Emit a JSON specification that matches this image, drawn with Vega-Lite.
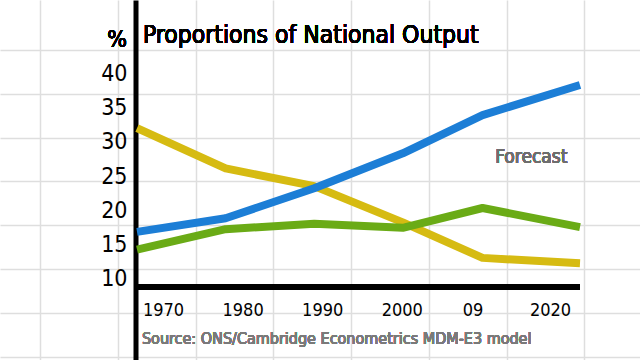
{
  "$schema": "https://vega.github.io/schema/vega-lite/v6.json",
  "width": 640,
  "height": 360,
  "autosize": {"type": "none"},
  "padding": 0,
  "background": "white",
  "config": {"view": {"stroke": null}},
  "data": {"values": [
    {"year": 1970, "series": "yellow", "value": 31.8},
    {"year": 1980, "series": "yellow", "value": 25.9},
    {"year": 1990, "series": "yellow", "value": 23.3},
    {"year": 2000, "series": "yellow", "value": 18.0},
    {"year": 2009, "series": "yellow", "value": 12.8},
    {"year": 2020, "series": "yellow", "value": 12.0},
    {"year": 1970, "series": "green", "value": 14.0},
    {"year": 1980, "series": "green", "value": 17.0},
    {"year": 1990, "series": "green", "value": 17.8},
    {"year": 2000, "series": "green", "value": 17.2},
    {"year": 2009, "series": "green", "value": 20.1},
    {"year": 2020, "series": "green", "value": 17.3},
    {"year": 1970, "series": "blue", "value": 16.6},
    {"year": 1980, "series": "blue", "value": 18.6},
    {"year": 1990, "series": "blue", "value": 23.0},
    {"year": 2000, "series": "blue", "value": 28.1},
    {"year": 2009, "series": "blue", "value": 33.7},
    {"year": 2020, "series": "blue", "value": 38.1}
  ]},
  "resolve": {"axis": {"x": "independent", "y": "independent"}},
  "layer": [
    {
      "mark": {"type": "rule", "color": "black", "strokeWidth": 5, "strokeCap": "butt"},
      "encoding": {
        "x": {"datum": 1969.77, "type": "quantitative",
          "scale": {"domain": [1954.537, 2026.772], "nice": false, "zero": false},
          "axis": {"orient": "top", "grid": true, "gridColor": "#dedede", "gridWidth": 1.5,
            "values": [1959.05, 1967.85, 1976.66, 1985.35, 1994.15, 2002.96, 2011.76, 2020.45],
            "labels": false, "ticks": false, "domain": false, "title": null}},
        "x2": {"datum": 2020.0},
        "y": {"datum": 8.54, "type": "quantitative",
          "scale": {"domain": [-2.146, 50.54], "nice": false, "zero": false},
          "axis": {"orient": "right", "grid": true, "gridColor": "#dedede", "gridWidth": 1.5,
            "values": [43.22, 36.81, 30.4, 24.0, 17.58, 11.17, 4.76, -1.65],
            "labels": false, "ticks": false, "domain": false, "title": null}}
      }
    },
    {
      "mark": {"type": "line", "strokeWidth": 8, "strokeJoin": "round", "strokeCap": "butt"},
      "encoding": {
        "x": {"field": "year", "type": "quantitative",
          "scale": {"domain": [1954.537, 2026.772], "nice": false, "zero": false},
          "axis": {"orient": "bottom", "offset": -73, "grid": false, "domain": false, "ticks": false, "tickSize": 0,
            "values": [1970, 1980, 1990, 2000, 2009, 2020], "format": "d",
            "labelExpr": "datum.value == 2009 ? '09' : datum.label",
            "labelFont": "DejaVu Sans Condensed", "labelFontSize": 18, "labelColor": "black",
            "labelBaseline": "alphabetic", "labelPadding": 28,
            "labelFlush": false, "labelOverlap": false, "labelBound": false,
            "labelOffset": {"condition": [
              {"test": "datum.value == 1970", "value": 26},
              {"test": "datum.value == 1980", "value": 17},
              {"test": "datum.value == 1990", "value": 8},
              {"test": "datum.value == 2009", "value": -10},
              {"test": "datum.value == 2020", "value": -30}
            ], "value": -1},
            "title": null}},
        "y": {"field": "value", "type": "quantitative",
          "scale": {"domain": [-2.146, 50.54], "nice": false, "zero": false},
          "axis": {"orient": "left", "offset": -135.5, "grid": false, "domain": true, "domainColor": "black", "domainWidth": 5,
            "ticks": false, "tickSize": 0, "values": [10, 15, 20, 25, 30, 35, 40],
            "labelFont": "DejaVu Sans Condensed", "labelFontSize": 23, "labelColor": "black",
            "labelBaseline": "alphabetic", "labelOffset": 8.5, "labelPadding": 8.5, "labelAlign": "right",
            "labelFlush": false, "labelOverlap": false, "labelBound": false, "title": null}},
        "color": {"field": "series", "type": "nominal",
          "scale": {"domain": ["yellow", "green", "blue"], "range": ["#d6bb12", "#6aab16", "#1c7ed6"]},
          "legend": null}
      }
    },
    {
      "mark": {"type": "text", "align": "left", "baseline": "alphabetic", "font": "DejaVu Sans Condensed", "fontSize": 24.5, "color": "black"},
      "encoding": {"x": {"datum": 1970.67, "axis": null}, "y": {"datum": 44.25, "axis": null}, "text": {"value": "Proportions of National Output"}}
    },
    {
      "mark": {"type": "text", "align": "right", "baseline": "alphabetic", "font": "DejaVu Sans Condensed", "fontSize": 23, "color": "black"},
      "encoding": {"x": {"datum": 1968.87, "axis": null}, "y": {"datum": 43.66, "axis": null}, "text": {"value": "%"}}
    },
    {
      "mark": {"type": "text", "align": "center", "baseline": "alphabetic", "font": "DejaVu Sans Condensed", "fontSize": 19, "color": "#6e6e6e"},
      "encoding": {"x": {"datum": 2014.5, "axis": null}, "y": {"datum": 26.7, "axis": null}, "text": {"value": "Forecast"}}
    },
    {
      "mark": {"type": "text", "align": "left", "baseline": "alphabetic", "font": "DejaVu Sans Condensed", "fontSize": 16, "color": "#7a7a7a"},
      "encoding": {"x": {"datum": 1970.56, "axis": null}, "y": {"datum": 0.196, "axis": null}, "text": {"value": "Source: ONS/Cambridge Econometrics MDM-E3 model"}}
    }
  ]
}
